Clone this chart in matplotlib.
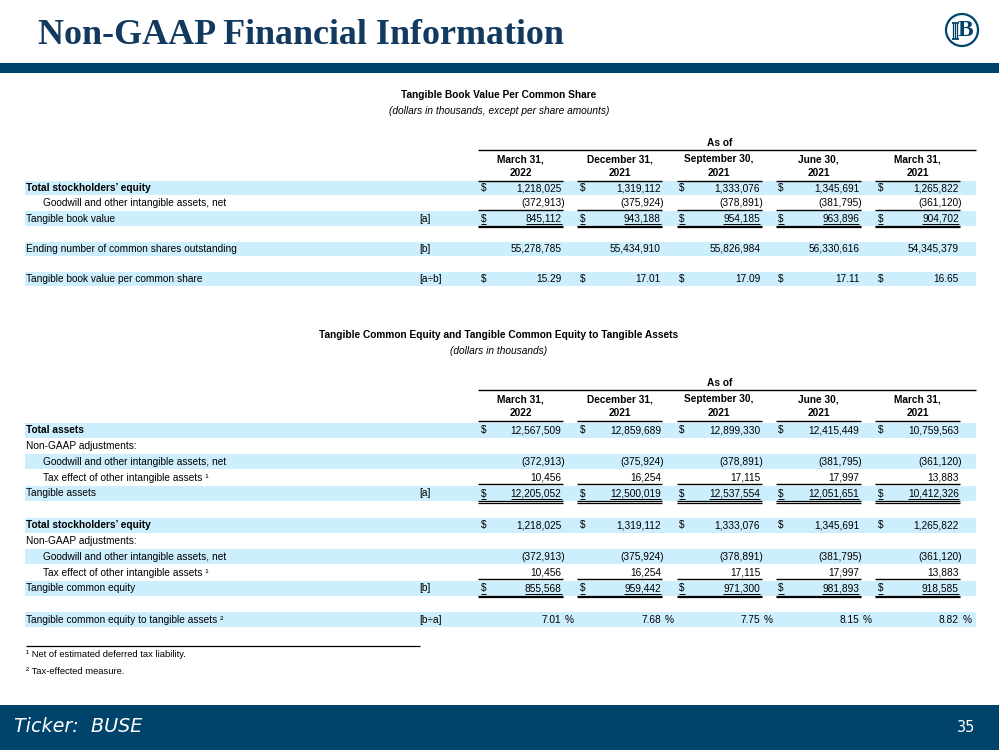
import matplotlib
matplotlib.use("Agg")
import matplotlib.pyplot as plt
from matplotlib import font_manager as fm
from matplotlib.patches import Rectangle, Circle

# ---------------- data ----------------
date_line1 = ["March 31,", "December 31,", "September 30,", "June 30,", "March 31,"]
date_line2 = ["2022", "2021", "2021", "2021", "2021"]

# Table 1: Tangible book value per common share
t1_total_equity = [1218025, 1319112, 1333076, 1345691, 1265822]
t1_goodwill = [-372913, -375924, -378891, -381795, -361120]
t1_tangible_book = [845112, 943188, 954185, 963896, 904702]
t1_shares = [55278785, 55434910, 55826984, 56330616, 54345379]
t1_tbv_per_share = [15.29, 17.01, 17.09, 17.11, 16.65]

# Table 2: Tangible common equity to tangible assets
t2_total_assets = [12567509, 12859689, 12899330, 12415449, 10759563]
t2_goodwill = [-372913, -375924, -378891, -381795, -361120]
t2_tax_effect = [10456, 16254, 17115, 17997, 13883]
t2_tangible_assets = [12205052, 12500019, 12537554, 12051651, 10412326]
t2_total_equity = [1218025, 1319112, 1333076, 1345691, 1265822]
t2_tce = [855568, 959442, 971300, 981893, 918585]
t2_tce_ratio = [7.01, 7.68, 7.75, 8.15, 8.82]

# ---------------- style ----------------
NAVY = "#00436b"
TITLE_NAVY = "#12395e"
BAND = "#cdeefc"

names = {f.name for f in fm.fontManager.ttflist}
if "Liberation Sans Narrow" in names:
    SANS = ["Liberation Sans Narrow", "DejaVu Sans"]
    FS = 8.9
else:
    SANS = ["Liberation Sans", "DejaVu Sans"]
    FS = 7.3

W, H = 999, 750
fig = plt.figure(figsize=(W / 100, H / 100), dpi=100)
ax = fig.add_axes([0, 0, 1, 1])
ax.set_xlim(0, W)
ax.set_ylim(H, 0)
ax.axis("off")
renderer = fig.canvas.get_renderer()


def txt(x, y, s, **kw):
    kw.setdefault("family", SANS)
    kw.setdefault("fontsize", FS)
    kw.setdefault("va", "center")
    kw.setdefault("color", "black")
    return ax.text(x, y, s, **kw)


def extent(t):
    bb = t.get_window_extent(renderer)
    return bb.x0, bb.x1


def fit_width(t, target):
    a, b = extent(t)
    t.set_fontsize(t.get_fontsize() * target / (b - a))


def hline(x0, x1, y, lw=0.9, color="black"):
    ax.plot([x0, x1], [y, y], color=color, lw=lw, solid_capstyle="butt")


# ---------------- header / footer ----------------
title = ax.text(38, 35, "Non-GAAP Financial Information", family=["Liberation Serif"],
                fontweight="bold", fontsize=26, color=TITLE_NAVY, va="center", ha="left")
fit_width(title, 527)

ax.add_patch(Rectangle((0, 62.5), W, 10.5, color=NAVY, lw=0))
# logo: circle with a pillar-stemmed "B"
ax.add_patch(Circle((962, 30), 16, fill=False, ec=NAVY, lw=1.6))
ax.text(965, 31, "B", family=["Liberation Serif"], fontsize=17, color=NAVY,
        ha="center", va="center", fontweight="bold")
hline(951.5, 958.5, 22.8, lw=1.3, color=NAVY)
hline(951.5, 958.5, 38.6, lw=1.3, color=NAVY)
for px in (953.2, 955.0, 956.8):
    ax.plot([px, px], [23.5, 38], color=NAVY, lw=0.9)

ax.add_patch(Rectangle((0, 705), W, 45, color=NAVY, lw=0))
ticker = ax.text(14, 727, "Ticker:  BUSE", family=["DejaVu Sans"], style="italic",
                 fontsize=11, color="white", va="center", ha="left")
fit_width(ticker, 128)
ax.text(975, 728, "35", family=["DejaVu Sans"], fontsize=10.5, color="white",
        va="center", ha="right")

# ---------------- table machinery ----------------
COL_L = [478 + 99.3 * i for i in range(5)]
COL_R = [563 + 99.3 * i for i in range(5)]
BAND_X0, BAND_X1 = 25, 976


def fmt_num(v, kind):
    if kind in ("pct", "dec"):
        return f"{v:.2f}"
    if v < 0:
        return f"({-v:,})"
    return f"{v:,}"


def draw_header(title_s, sub_s, y_title, y_sub, y_line):
    txt(499, y_title, title_s, ha="center", fontweight="bold")
    txt(499, y_sub, sub_s, ha="center", style="italic")
    txt(720, y_line - 7, "As of", ha="center", fontweight="bold")
    hline(478, 976, y_line, lw=1.0)
    for i in range(5):
        cx = (COL_L[i] + COL_R[i]) / 2
        txt(cx, y_line + 10, date_line1[i], ha="center", fontweight="bold")
        txt(cx, y_line + 24, date_line2[i], ha="center", fontweight="bold")
        hline(COL_L[i], COL_R[i], y_line + 31, lw=1.0)


def draw_rows(rows, y0, pitch):
    for k, row in enumerate(rows):
        y = y0 + pitch * k
        if k % 2 == 0:
            ax.add_patch(Rectangle((BAND_X0, y - pitch / 2 + 0.4), BAND_X1 - BAND_X0,
                                   pitch - 0.8, color=BAND, lw=0, zorder=0))
        if row is None:
            continue
        label, bracket, vals, kind, dollar, bold, indent, rule = row
        txt(43 if indent else 26, y, label, ha="left",
            fontweight="bold" if bold else "normal")
        if bracket:
            txt(419, y, bracket, ha="left")
        if vals is None:
            continue
        for i, v in enumerate(vals):
            s = fmt_num(v, kind)
            rx = COL_R[i] - 1.5
            if kind == "int" and v < 0:
                rx = COL_R[i] + 1.5
            t = txt(rx, y, s, ha="right")
            if kind == "pct":
                txt(COL_R[i] + 2.0, y, "%", ha="left")
            if dollar:
                d = txt(COL_L[i] + 2.5, y, "$", ha="left")
            if rule == "single":
                hline(COL_L[i], COL_R[i], y + pitch / 2 - 1.2, lw=1.0)
            elif rule == "double":
                a, b = extent(t)
                hline(a, b, y + 5.2, lw=0.7)
                if dollar:
                    a, b = extent(d)
                    hline(a, b, y + 5.2, lw=0.7)
                hline(COL_L[i], COL_R[i], y + pitch / 2 - 0.4, lw=0.9)
                hline(COL_L[i], COL_R[i], y + pitch / 2 + 1.2, lw=0.9)


# ---------------- table 1 ----------------
draw_header("Tangible Book Value Per Common Share",
            "(dollars in thousands, except per share amounts)", 95.5, 110.5, 149.5)
rows1 = [
    ("Total stockholders’ equity", "", t1_total_equity, "int", True, True, False, None),
    ("Goodwill and other intangible assets, net", "", t1_goodwill, "int", False, False, True, "single"),
    ("Tangible book value", "[a]", t1_tangible_book, "int", True, False, False, "double"),
    None,
    ("Ending number of common shares outstanding", "[b]", t1_shares, "int", False, False, False, None),
    None,
    ("Tangible book value per common share", "[a÷b]", t1_tbv_per_share, "dec", True, False, False, None),
]
draw_rows(rows1, 188.2, 15.17)

# ---------------- table 2 ----------------
draw_header("Tangible Common Equity and Tangible Common Equity to Tangible Assets",
            "(dollars in thousands)", 335, 351, 389.5)
rows2 = [
    ("Total assets", "", t2_total_assets, "int", True, True, False, None),
    ("Non-GAAP adjustments:", "", None, "int", False, False, False, None),
    ("Goodwill and other intangible assets, net", "", t2_goodwill, "int", False, False, True, None),
    ("Tax effect of other intangible assets ¹", "", t2_tax_effect, "int", False, False, True, "single"),
    ("Tangible assets", "[a]", t2_tangible_assets, "int", True, False, False, "double"),
    None,
    ("Total stockholders’ equity", "", t2_total_equity, "int", True, True, False, None),
    ("Non-GAAP adjustments:", "", None, "int", False, False, False, None),
    ("Goodwill and other intangible assets, net", "", t2_goodwill, "int", False, False, True, None),
    ("Tax effect of other intangible assets ¹", "", t2_tax_effect, "int", False, False, True, "single"),
    ("Tangible common equity", "[b]", t2_tce, "int", True, False, False, "double"),
    None,
    ("Tangible common equity to tangible assets ²", "[b÷a]", t2_tce_ratio, "pct", False, False, False, None),
]
draw_rows(rows2, 430.3, 15.8)

# ---------------- footnotes ----------------
hline(26, 420, 645.5, lw=0.9)
txt(26, 654.5, "¹ Net of estimated deferred tax liability.", ha="left", fontsize=FS * 0.93)
txt(26, 671, "² Tax-effected measure.", ha="left", fontsize=FS * 0.93)

fig.savefig("out.png", dpi=100)
